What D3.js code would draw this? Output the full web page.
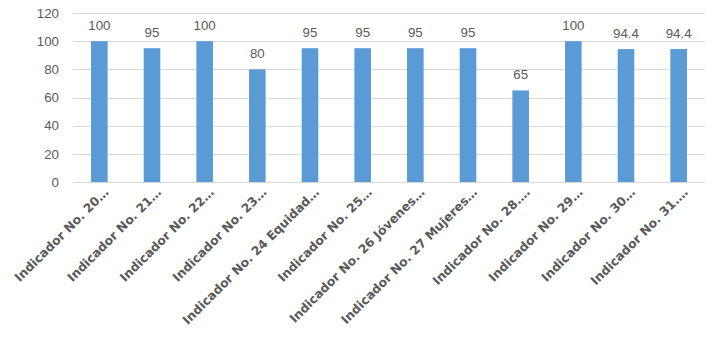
<!DOCTYPE html>
<html><head><meta charset="utf-8">
<script src="https://cdn.jsdelivr.net/npm/d3@7"></script>
<style>body{margin:0;background:#fff}</style>
</head><body>
<svg id="c" width="716" height="339"></svg>
<script>
const categories = ["Indicador No. 20…","Indicador No. 21…","Indicador No. 22…","Indicador No. 23…","Indicador No. 24 Equidad…","Indicador No. 25…","Indicador No. 26 Jóvenes…","Indicador No. 27 Mujeres…","Indicador No. 28.…","Indicador No. 29…","Indicador No. 30…","Indicador No. 31.…"];
const values = [100,95,100,80,95,95,95,95,65,100,94.4,94.4];
const valueLabels = ["100","95","100","80","95","95","95","95","65","100","94.4","94.4"];
const yTicks = [0,20,40,60,80,100,120];

(function(){
const svg = d3.select("#c");
const pl = 73, pr = 705, pt = 13, pb = 182;
const x = d3.scaleBand().domain(categories).range([pl, pr]).paddingInner(0.685).paddingOuter(0.3425);
const y = d3.scaleLinear().domain([0,120]).range([pb, pt]);

const grid = svg.append("g");
grid.selectAll("line").data(yTicks).join("line")
  .attr("x1", pl).attr("x2", pr)
  .attr("y1", d => Math.round(y(d)) + 0.5).attr("y2", d => Math.round(y(d)) + 0.5)
  .attr("stroke", "#d9d9d9").attr("stroke-width", 1);

const yAxis = d3.axisLeft(y).tickValues(yTicks).tickSize(0).tickPadding(0);
const ya = svg.append("g").attr("transform", `translate(${pl - 14},0)`).call(yAxis);
ya.select(".domain").remove();
ya.selectAll("text").attr("font-family", "'Liberation Sans', Arial, sans-serif").attr("font-size", "13.3px").attr("fill", "#595959");

svg.append("g").selectAll("rect").data(values).join("rect")
  .attr("x", (d,i) => x(categories[i]))
  .attr("width", x.bandwidth())
  .attr("y", d => y(d))
  .attr("height", d => y(0) - y(d))
  .attr("fill", "#5b9bd5");

svg.append("g").selectAll("text").data(values).join("text")
  .attr("x", (d,i) => x(categories[i]) + x.bandwidth()/2)
  .attr("y", d => y(d) - 11)
  .attr("text-anchor", "middle")
  .attr("font-family", "'Liberation Sans', Arial, sans-serif")
  .attr("font-size", "13.3px").attr("fill", "#595959")
  .text((d,i) => valueLabels[i]);

const xAxis = d3.axisBottom(x).tickSize(0).tickPadding(0);
const xa = svg.append("g").attr("transform", `translate(0,${pb})`).call(xAxis);
xa.select(".domain").remove();
xa.selectAll("text")
  .attr("font-family", "'DejaVu Sans', Verdana, sans-serif")
  .attr("font-weight", "bold")
  .attr("font-size", "12.3px").attr("fill", "#595959")
  .attr("text-anchor", "end")
  .attr("dy", null)
  .attr("y", null)
  .attr("transform", "translate(10,11) rotate(-45)");
})();
</script>
</body></html>
